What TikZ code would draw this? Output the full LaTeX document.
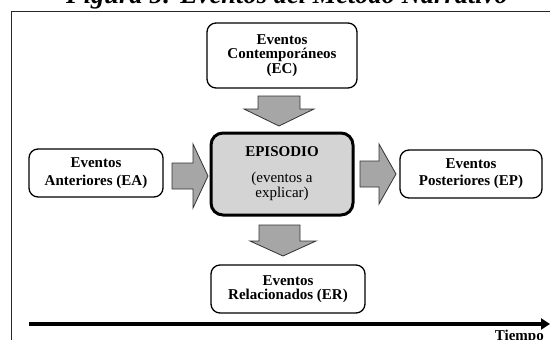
\documentclass[tikz,border=0pt]{standalone}
\usepackage{fontspec}
\setmainfont{Liberation Serif}
\usetikzlibrary{arrows.meta}
\definecolor{arrowgray}{RGB}{166,166,166}
\definecolor{centergray}{RGB}{212,212,212}
\begin{document}
\begin{tikzpicture}[x=1pt,y=-1pt,
  evbox/.style={draw=black, line width=1.3pt, rounded corners=9pt, align=center,
    inner sep=0pt, font=\fontsize{15}{15}\selectfont\bfseries},
  centerbox/.style={draw=black, line width=3pt, rounded corners=12pt, fill=centergray,
    align=center, inner sep=0pt, font=\fontsize{15}{15}\selectfont},
  blockarrow/.style={fill=arrowgray, draw=black!80, line width=0.8pt, line join=miter},
  frameline/.style={draw=black!85, line width=0.9pt},
  timeline/.style={line width=3.5pt, -{Triangle[length=9pt,width=11pt]}}
]
\useasboundingbox (0,0) rectangle (550,340);

% title (cut by the page edge)
\node[anchor=base, inner sep=0pt, font=\fontsize{26.5}{30}\selectfont\bfseries\itshape] (title) at (287,4) {Figura 5: Eventos del Método Narrativo};

% frame
\draw[frameline] (550,11) -- (11,11) -- (11,340);

% boxes
\node[evbox, minimum width=150pt, minimum height=65pt, font=\fontsize{15}{14.5}\selectfont\bfseries] (ec) at (282,55.5) {Eventos\\Contemporáneos\\(EC)};
\node[evbox, minimum width=134pt, minimum height=48pt, font=\fontsize{15}{18}\selectfont\bfseries] (ea) at (96,173) {Eventos\\Anteriores (EA)};
\node[evbox, minimum width=142pt, minimum height=48pt, font=\fontsize{15}{17}\selectfont\bfseries] (epo) at (471,174) {Eventos\\Posteriores (EP)};
\node[evbox, minimum width=154pt, minimum height=48pt, font=\fontsize{15}{14.5}\selectfont\bfseries] (er) at (288,289) {Eventos\\Relacionados (ER)};
\node[centerbox, minimum width=142pt, minimum height=82pt] (epi) at (282,174) {\textbf{EPISODIO}\\[11pt](eventos a\\explicar)};

% block arrows
\draw[blockarrow] (258,96) -- (300,96) -- (300,109) -- (314,109) -- (279,126) -- (244,109) -- (258,109) -- cycle;
\draw[blockarrow] (259,225) -- (300,225) -- (300,241) -- (316,241) -- (283,256) -- (250,241) -- (259,241) -- cycle;
\draw[blockarrow] (172,163) -- (193,163) -- (193,144) -- (208,176) -- (193,208) -- (193,189) -- (172,189) -- cycle;
\draw[blockarrow] (360,161) -- (379,161) -- (379,144) -- (396,174) -- (379,204) -- (379,187) -- (360,187) -- cycle;

% time line
\coordinate (t0) at (29,324);
\coordinate (t1) at (550,324);
\draw[timeline] (t0) -- (t1);
\node[anchor=base east, inner sep=0pt, font=\fontsize{15}{15}\selectfont\bfseries] (tiempo) at (544,340) {Tiempo};
\end{tikzpicture}
\end{document}
